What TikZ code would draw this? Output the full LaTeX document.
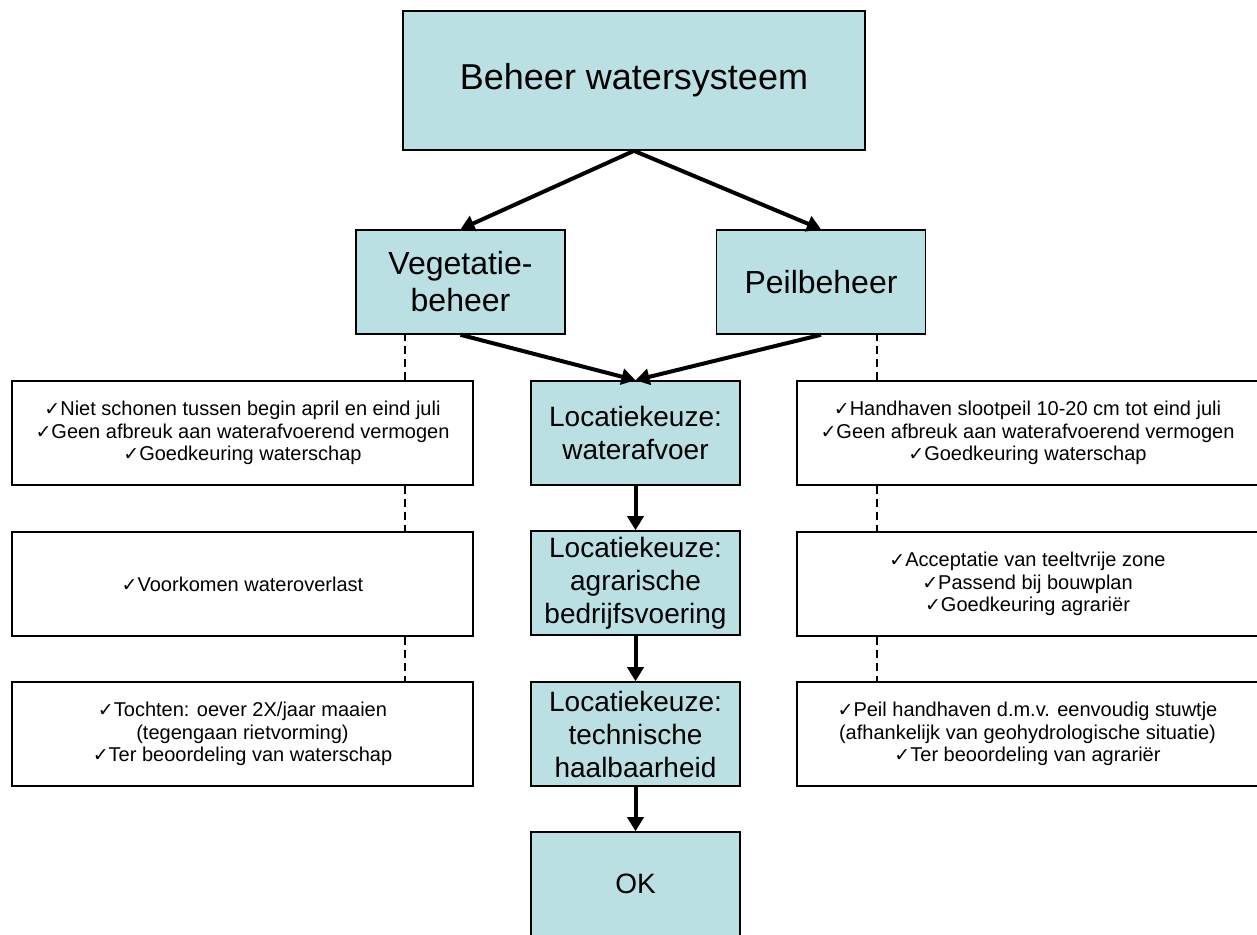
\documentclass[tikz,border=0pt]{standalone}
\usepackage{fontspec}
\setmainfont{Liberation Sans}
\newfontfamily\chkfont{DejaVu Sans}
\newcommand{\chk}{{\chkfont\fontsize{9.5}{9.5}\selectfont ✓}}
\usetikzlibrary{arrows.meta}
\definecolor{waterblauw}{RGB}{187,224,227}

\begin{document}
\begin{tikzpicture}[x=0.5pt,y=-0.5pt,
		stap/.style={draw,fill=waterblauw,line width=0.8pt,align=center,inner sep=0pt,minimum width=104.5pt,minimum height=52pt},
		eis/.style={draw,line width=0.8pt,align=center,inner sep=0pt,minimum width=230.5pt,minimum height=52pt,font=\fontsize{10}{11.2}\selectfont},
		pijl/.style={line width=2pt,-{Triangle[length=7pt,width=8pt]}},
		stippel/.style={line width=0.8pt,dash pattern=on 4pt off 2.5pt}]
  		\useasboundingbox (0,0) rectangle (1257,934);
  		\node[stap,minimum width=231pt,minimum height=69.5pt,font=\fontsize{18}{20}\selectfont] (top) at (634,80.5) {Beheer watersysteem};
  		\node[stap,font=\fontsize{16}{18.5}\selectfont] (veg) at (460.5,282) {Vegetatie-\\beheer};
  		\node[stap,font=\fontsize{16}{18.5}\selectfont] (peil) at (821,282) {Peilbeheer};
  		\node[stap,font=\fontsize{14}{16.5}\selectfont] (afvoer) at (635.5,433) {Locatiekeuze:\\waterafvoer};
  		\node[stap,font=\fontsize{14}{16.5}\selectfont] (agrar) at (635.5,583) {Locatiekeuze:\\agrarische\\bedrijfsvoering};
  		\node[stap,font=\fontsize{14}{16.5}\selectfont] (techn) at (635.5,734) {Locatiekeuze:\\technische\\haalbaarheid};
  		\node[stap,minimum height=52pt,font=\fontsize{14}{16.5}\selectfont] (ok) at (635.5,884) {OK};
  		\node[eis] (veg1) at (242.5,433) {\chk Niet schonen tussen begin april en eind juli\\\chk Geen afbreuk aan waterafvoerend vermogen\\\chk Goedkeuring waterschap};
  		\node[eis] (veg2) at (242.5,584) {\chk Voorkomen wateroverlast};
  		\node[eis] (veg3) at (242.5,734) {\chk Tochten: oever 2X/jaar maaien\\(tegengaan rietvorming)\\\chk Ter beoordeling van waterschap};
  		\node[eis] (peil1) at (1027.5,433) {\chk Handhaven slootpeil 10-20 cm tot eind juli\\\chk Geen afbreuk aan waterafvoerend vermogen\\\chk Goedkeuring waterschap};
  		\node[eis] (peil2) at (1027.5,584) {\chk Acceptatie van teeltvrije zone\\\chk Passend bij bouwplan\\\chk Goedkeuring agrariër};
  		\node[eis] (peil3) at (1027.5,734) {\chk Peil handhaven d.m.v. eenvoudig stuwtje\\(afhankelijk van geohydrologische situatie)\\\chk Ter beoordeling van agrariër};
  		\draw[pijl] (top.south) -- (veg.north);
  		\draw[pijl] (top.south) -- (peil.north);
  		\draw[pijl] (veg.south) -- (afvoer.north);
  		\draw[pijl] (peil.south) -- (afvoer.north);
  		\draw[pijl] (afvoer) -- (agrar);
  		\draw[pijl] (agrar) -- (techn);
  		\draw[pijl] (techn) -- (ok);
  		\draw[stippel] ([xshift=-34.5pt]veg1.north east) -- ([xshift=-34.5pt]veg1.north east |- veg.south);
  		\draw[stippel] ([xshift=-34.5pt]veg1.south east) -- ([xshift=-34.5pt]veg2.north east);
  		\draw[stippel] ([xshift=-34.5pt]veg2.south east) -- ([xshift=-34.5pt]veg3.north east);
  		\draw[stippel] ([xshift=40.5pt]peil1.north west) -- ([xshift=40.5pt]peil1.north west |- peil.south);
  		\draw[stippel] ([xshift=40.5pt]peil1.south west) -- ([xshift=40.5pt]peil2.north west);
  		\draw[stippel] ([xshift=40.5pt]peil2.south west) -- ([xshift=40.5pt]peil3.north west);
\end{tikzpicture}
\end{document}
